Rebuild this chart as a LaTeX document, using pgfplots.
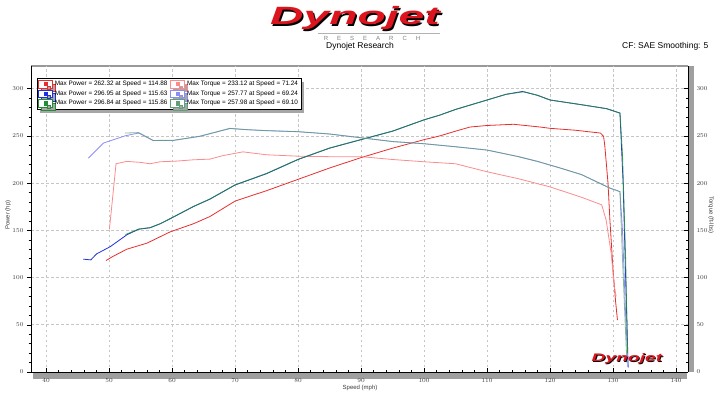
\documentclass[border=0pt]{standalone}
\usepackage{pgfplots}
\pgfplotsset{compat=1.18}
\usepackage{fontspec}
\setmainfont{Liberation Sans}
\usetikzlibrary{shadows}
\definecolor{pred}{RGB}{232,45,45}
\definecolor{tred}{RGB}{250,140,140}
\definecolor{pblue}{RGB}{30,50,215}
\definecolor{tblue}{RGB}{140,140,245}
\definecolor{pgreen}{RGB}{35,140,55}
\definecolor{tgreen}{RGB}{95,160,120}
\definecolor{lbl}{RGB}{60,60,60}
\definecolor{logored}{RGB}{220,20,30}
\begin{document}
\begin{tikzpicture}[x=1pt,y=1pt]
\useasboundingbox (0,0) rectangle (720,405);
% shadows of axes
\fill[gray!75] (33,26.5) rectangle (687,32.5);
\fill[gray!75] (688.5,33) rectangle (693.5,339);
\draw[gray!80, line width=1.5pt] (31,339) -- (688,339);
\begin{axis}[
  at={(31pt,33pt)}, anchor=south west, scale only axis,
  width=657pt, height=306pt,
  xmin=37.6, xmax=141.9, ymin=0, ymax=324,
  axis x line=bottom, axis y line=left,
  axis line style={-, black, line width=0.6pt},
  xtick={40,50,...,140}, minor x tick num=4,
  ytick={0,50,...,300}, minor y tick num=4,
  xtick align=inside, ytick align=outside,
  major tick length=4pt, minor tick length=2.5pt,
  tick style={black, line width=0.5pt},
  grid=major, major grid style={dash pattern=on 2.5pt off 2.5pt, gray!45, line width=0.6pt},
  tick label style={font=\fontsize{6}{6.5}\selectfont, text=lbl},
  xticklabel style={yshift=-3.5pt},
  legend columns=2,
  legend cell align=left,
  legend style={at={(rel axis cs:0.009,0.961)}, anchor=north west,
    draw=black, line width=0.5pt, fill=white,
    font=\fontsize{6.4}{7}\selectfont, inner sep=1pt, row sep=-0.6pt,
    /tikz/every even column/.append style={column sep=1pt},
    drop shadow={shadow xshift=3pt, shadow yshift=-3.5pt, fill=gray!70, opacity=1}},
  legend image code/.code={
    \draw[#1, line width=0.6pt, fill=white, opacity=1] (0pt,-3.8pt) rectangle (14pt,3.8pt);
    \fill[#1, opacity=1] (5.5pt,-1.6pt) rectangle (8.5pt,1.6pt);},
]
\addplot[pred, line width=0.8pt] coordinates {
(49.5,118) (50.5,122) (52.8,130) (56,136.4) (59.7,148.4) (63.4,157) (66,164.6)
(70,181) (75,192) (80,204) (85,216) (90,227) (95,237) (100,246) (102.5,250)
(105,255) (107.3,259.4) (110,261) (114.2,262.3) (118.4,259.4) (120,258) (124,256)
(128,253) (128.5,249.5) (128.7,239) (129.2,200) (129.5,161) (130,108) (130.4,75) (130.7,55)};
\addlegendentry{Max Power = 262.32 at Speed = 114.88}
\addplot[tred, line width=0.8pt] coordinates {
(50.05,151) (51.1,220.5) (52.8,223) (54.9,222) (56.5,220.5) (58.1,222.6) (60.7,223.3)
(63.4,224.7) (66,225.4) (68,229) (71.24,233.1) (75,230) (80,228.5) (85,228) (90,228)
(95,225) (100,222.6) (105,220.5) (110,212) (115,204.6) (120,196) (125,185) (128.2,177)
(128.9,161) (129.7,126) (130.2,90) (130.5,80)};
\addlegendentry{Max Torque = 233.12 at Speed = 71.24}
\addplot[pblue, line width=0.8pt] coordinates {
(45.9,119.5) (47.1,118.7) (48.0,125) (50.2,132.8) (52.8,145.2) (54.7,151.2) (56.5,152.7)
(58.1,156.9) (60.2,164) (63.4,175.2) (66,183) (70,198) (75,210) (80,225) (85,237)
(90,246) (95,255) (100,267) (102.5,272) (105,278) (110,288) (113,294) (115.6,297)
(118,293) (120,288) (125,283) (129,278.8) (131.1,274.2) (131.6,200) (132,100) (132.4,5)};
\addlegendentry{Max Power = 296.95 at Speed = 115.63}
\addplot[tblue, line width=0.8pt] coordinates {
(46.7,226.4) (49.1,242.4) (50.7,246) (52.5,250) (53.9,252) (54.7,253) (57,245) (60.2,245.2)
(64.4,249.5) (67,254) (69.24,257.8) (72,256.5) (75,255.5) (80,254.4) (85,252) (90,248)
(95,244) (100,241.7) (105,238.5) (110,235) (115,228) (118,223) (121.6,216) (125,209)
(129.5,194.7) (131.1,191) (131.5,150) (132,60) (132.4,5)};
\addlegendentry{Max Torque = 257.77 at Speed = 69.24}
\addplot[pgreen, line width=0.8pt, opacity=0.85] coordinates {
(52.6,145.5) (54.7,151.4) (56.5,152.9) (58.1,157) (60.2,164.2) (63.4,175.4) (66,183.2)
(70,198.2) (75,210.3) (80,225.2) (85,237.2) (90,246.2) (95,255.1) (100,267) (102.5,272)
(105,278) (110,288) (113,294) (115.86,296.8) (118,293) (120,288) (125,283) (129,278.8)
(131.1,274) (131.5,230) (132,120) (132.3,20)};
\addlegendentry{Max Power = 296.84 at Speed = 115.86}
\addplot[tgreen, line width=0.8pt, opacity=0.75] coordinates {
(52.5,253) (54.7,253.5) (57,245.2) (60.2,245.3) (64.4,249.7) (67,254.2) (69.1,258) (72,256.6)
(75,255.6) (80,254.5) (85,252) (90,248) (95,244) (100,241.7) (105,238.5) (110,235)
(115,228) (118,223) (121.6,216) (125,209) (129.5,194.7) (131.1,191) (131.5,120)
(132,40) (132.2,10)};
\addlegendentry{Max Torque = 257.98 at Speed = 69.10}
\end{axis}
\begin{axis}[
  at={(31pt,33pt)}, anchor=south west, scale only axis,
  width=657pt, height=306pt,
  xmin=37.6, xmax=141.9, ymin=0, ymax=324,
  axis x line=none, axis y line=right,
  axis line style={-, black, line width=0.6pt},
  ytick={0,50,...,300}, minor y tick num=4,
  ytick align=inside,
  major tick length=4pt, minor tick length=2.5pt,
  tick style={black, line width=0.5pt},
  yticklabel style={font=\fontsize{6}{6.5}\selectfont, text=lbl, xshift=5pt},
]
\addplot[draw=none] coordinates {(40,0)};
\end{axis}
% axis titles
\node[font=\fontsize{6}{6.5}\selectfont, text=lbl, rotate=90] at (8,190) {Power (hp)};
\node[font=\fontsize{6}{6.5}\selectfont, text=lbl, rotate=-90] at (711,190) {Torque (ft-lbs)};
\node[font=\fontsize{6}{6.5}\selectfont, text=lbl] at (360,17) {Speed (mph)};
% header
\node[font=\fontsize{8.5}{9}\selectfont] at (360,359) {Dynojet Research};
\node[font=\fontsize{8.5}{9}\selectfont, anchor=east] at (712,359) {CF: SAE Smoothing: 5};
\node[font=\fontsize{25}{25}\selectfont\bfseries\itshape, text=black, xscale=1.85] at (356.5,385) {Dynojet};
\node[font=\fontsize{25}{25}\selectfont\bfseries\itshape, text=logored, xscale=1.85] at (355,386.5) {Dynojet};
\draw[gray!60, line width=0.5pt] (318,372) -- (440,372);
\node[font=\fontsize{6}{6}\selectfont, text=gray] at (372,367) {R\hspace{9pt}E\hspace{9pt}S\hspace{9pt}E\hspace{9pt}A\hspace{9pt}R\hspace{9pt}C\hspace{9pt}H};
% small logo
\node[font=\fontsize{11}{11}\selectfont\bfseries\itshape, text=black, xscale=1.75] at (627.8,45.2) {Dynojet};
\node[font=\fontsize{11}{11}\selectfont\bfseries\itshape, text=logored, xscale=1.75] at (627,46) {Dynojet};
\end{tikzpicture}
\end{document}
